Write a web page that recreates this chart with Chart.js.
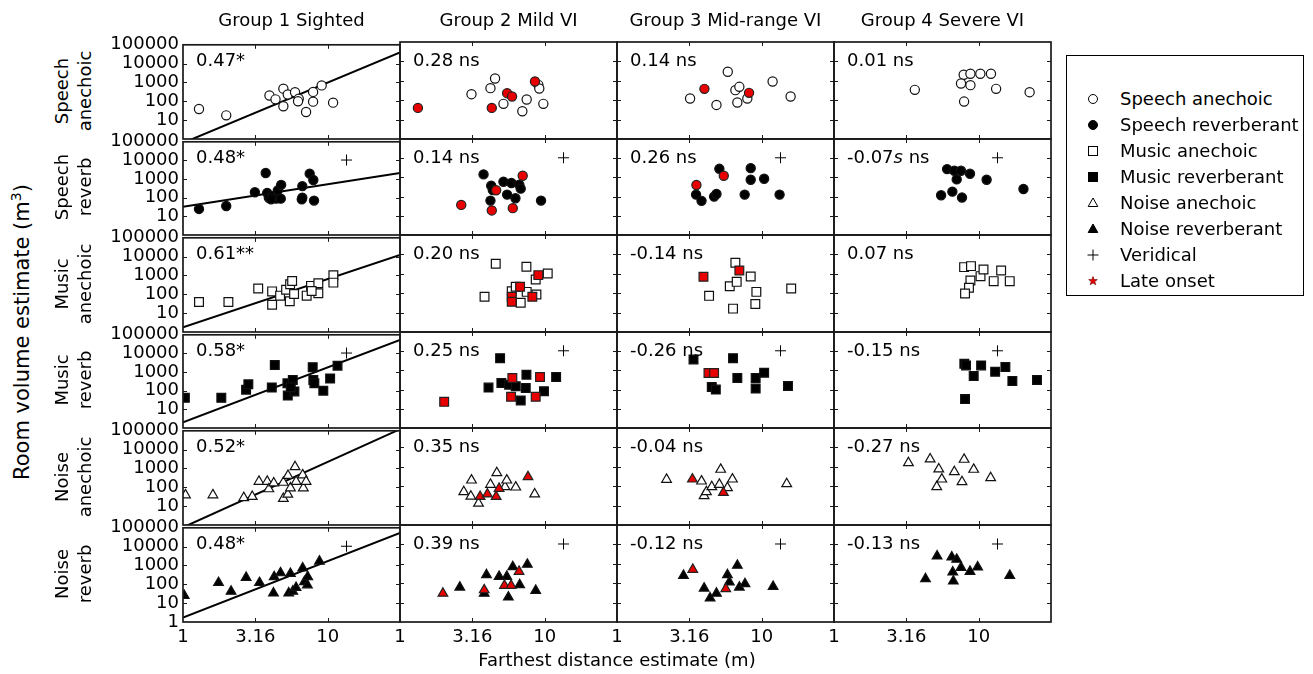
<!DOCTYPE html>
<html><head><meta charset="utf-8">
<script src="https://cdn.jsdelivr.net/npm/chart.js@4.4.1/dist/chart.umd.min.js"></script>
<style>
html,body{margin:0;padding:0;background:#fff;}
body{width:1313px;height:674px;overflow:hidden;position:relative;font-family:"DejaVu Sans",sans-serif;color:#000;}
canvas{position:absolute;}
.t{position:absolute;font-size:18px;line-height:18px;white-space:nowrap;}
.rot{position:absolute;font-size:18px;line-height:23px;white-space:nowrap;text-align:center;transform:translate(-50%,-50%) rotate(-90deg);}
#legend{position:absolute;left:1066px;top:55px;width:238px;height:241px;border:1px solid #000;box-sizing:border-box;}
.li{position:absolute;left:0;height:20px;font-size:18px;line-height:20px;white-space:nowrap;}
.li svg{position:absolute;left:19px;top:3px;}
.li span{position:absolute;left:53px;top:0;}
</style></head><body>
<script>
// ---------- tick values / labels ----------
const xTickValues = [1, 3.1623, 10, 31.623];
const xTickLabels = ['1', '3.16', '10', ''];
const yTickValues = [1, 10, 100, 1000, 10000, 100000];
const yTickLabels = ['1', '10', '100', '1000', '10000', '100000'];

// ---------- categories ----------
const groups = ['Group 1 Sighted', 'Group 2 Mild VI', 'Group 3 Mid-range VI', 'Group 4 Severe VI'];
const conditions = [['Speech','anechoic'],['Speech','reverb'],['Music','anechoic'],['Music','reverb'],['Noise','anechoic'],['Noise','reverb']];

// ---------- correlation annotations ----------
const corrSA = ['0.47*', '0.28 ns', '0.14 ns', '0.01 ns'];
const corrSR = ['0.48*', '0.14 ns', '0.26 ns', '-0.07<i>s</i> ns'];
const corrMA = ['0.61**', '0.20 ns', '-0.14 ns', '0.07 ns'];
const corrMR = ['0.58*', '0.25 ns', '-0.26 ns', '-0.15 ns'];
const corrNA = ['0.52*', '0.35 ns', '-0.04 ns', '-0.27 ns'];
const corrNR = ['0.48*', '0.39 ns', '-0.12 ns', '-0.13 ns'];

// ---------- data: [distance (m), room volume (m^3)] ----------
const SA_G1 = [[1.29,39],[1.99,18],[3.96,204],[4.36,127],[4.94,470],[5.30,230],[4.94,55],[5.95,304],[6.31,137],[6.24,100],[7.09,27],[7.93,316],[7.93,96],[9.09,700],[10.9,85]];
const SA_G2 = [[3.12,204],[4.22,417],[4.54,1320],[5.19,65],[7.01,27],[7.51,108],[9.04,620],[9.18,400],[9.79,65]];
const SA_G2_late = [[1.33,40],[4.31,40],[5.50,230],[5.95,155],[8.57,925]];
const SA_G3 = [[3.2,122],[4.87,57],[5.83,2920],[6.58,329],[7.01,490],[6.79,76],[7.96,122],[11.9,925],[15.85,155]];
const SA_G3_late = [[4.02,385],[8.18,239]];
const SA_G4 = [[3.62,342],[7.88,2040],[8.77,2300],[10.27,2300],[12.16,2300],[7.55,728],[8.77,597],[7.93,85],[13.2,385],[22.5,259]];

const SR_G1 = [[1.29,25],[1.99,36],[3.14,196],[3.73,2130],[3.82,181],[3.92,100],[4.17,122],[4.4,89],[4.52,250],[4.77,490],[4.74,89],[4.06,82],[6.68,418],[6.68,100],[6.62,82],[7.51,1960],[7.96,887],[8.05,70]];
const SR_G2 = [[3.78,1430],[4.27,371],[4.38,221],[4.22,62],[5.19,597],[5.50,127],[5.89,509],[6.28,82],[6.68,418],[6.83,259],[9.44,62]];
const SR_G2_late = [[2.65,37],[4.62,213],[4.31,19],[6.02,25],[7.05,1220]];
const SR_G3 = [[3.52,127],[3.84,60],[4.69,100],[4.87,137],[5.1,2800],[7.63,127],[8.4,3040],[8.4,757],[10.4,853],[13.3,127]];
const SR_G3_late = [[3.54,401],[5.47,1220]];
const SR_G4 = [[5.50,117],[6.05,2700],[6.58,181],[6.79,2210],[7.05,789],[7.55,2210],[7.67,89],[8.71,1550],[11.35,757],[20.4,250]];

const MA_G1 = [[1.29,39],[2.06,39],[3.31,204],[4.13,143],[4.13,28],[4.69,85],[5.16,174],[5.5,342],[5.68,509],[5.47,43],[5.86,104],[7.16,85],[7.67,281],[8.62,385],[8.62,113],[10.95,1040],[10.95,418],[7.75,149]];
const MA_G2 = [[3.84,65],[4.59,3290],[5.92,127],[6.31,213],[6.83,32],[7.48,2300],[7.51,117],[8.67,509],[8.77,85],[10.5,1040]];
const MA_G2_late = [[5.92,65],[5.92,36],[6.76,213],[8.22,65],[9.04,853]];
const MA_G3 = [[4.33,73],[6.02,230],[6.34,16],[6.58,3710],[6.72,385],[8.4,728],[9.19,117],[9.04,28],[16.0,174]];
const MA_G3_late = [[3.96,700],[7.01,1490]];
const MA_G4 = [[7.93,2210],[8.85,2490],[10.3,757],[10.8,1680],[12.7,418],[14.3,1490],[16.4,418],[8.77,452],[8.57,189],[8.05,96]];

const MR_G1 = [[1.03,42],[1.84,42],[2.73,113],[2.83,221],[4.11,149],[4.31,2390],[5.27,250],[5.3,55],[5.74,371],[5.89,92],[5.56,155],[7.88,1820],[7.96,371],[8.09,250],[9.33,100],[10.4,452],[11.7,2210]];
const MR_G2 = [[4.09,127],[4.92,4350],[5.02,221],[5.68,181],[6.31,149],[6.83,27],[7.4,122],[7.48,597],[9.89,82],[12.0,452]];
const MR_G2_late = [[2.02,23],[5.98,401],[5.86,42],[9.29,452],[8.67,42]];
const MR_G3 = [[3.38,3710],[4.52,137],[4.82,100],[6.34,4350],[6.79,401],[9.09,401],[9.09,113],[10.4,757],[15.2,155]];
const MR_G3_late = [[4.29,728],[4.69,728]];
const MR_G4 = [[7.96,2210],[8.18,1820],[9.24,509],[10.4,1820],[13.0,853],[15.3,1490],[17.1,281],[25.3,316],[8.05,32]];

const NA_G1 = [[1.04,39],[1.61,39],[2.63,28],[3.01,32],[3.35,204],[3.82,204],[3.92,82],[4.24,167],[4.94,181],[4.94,25],[5.3,42],[5.32,418],[5.53,92],[5.95,1220],[6.05,204],[6.72,452],[6.79,92],[7.09,204]];
const NA_G2 = [[2.76,51],[3.12,204],[3.09,30],[3.49,13],[4.22,122],[4.67,490],[5.32,92],[5.47,204],[6.31,89],[8.53,39]];
const NA_G2_late = [[3.58,29],[4.02,39],[4.62,29],[4.84,76],[7.67,304]];
const NA_G3 = [[2.2,221],[3.84,181],[4.0,32],[4.15,51],[4.52,92],[5.1,122],[5.21,728],[5.8,82],[6.28,230],[14.9,132]];
const NA_G3_late = [[3.32,230],[5.44,47]];
const NA_G4 = [[3.27,1610],[4.62,2490],[5.3,757],[5.13,92],[5.56,230],[6.79,551],[7.67,167],[7.93,2390],[9.24,728],[12.1,270]];

const NR_G1 = [[1.02,25],[1.76,122],[2.15,42],[2.73,230],[3.38,122],[4.27,250],[4.22,34],[4.72,401],[5.38,34],[5.53,371],[5.74,42],[6.05,67],[6.72,728],[6.91,137],[7.28,250],[8.77,1680],[7.24,92]];
const NR_G2 = [[2.59,62],[3.82,30],[3.96,270],[4.84,221],[5.47,221],[5.61,19],[6.02,700],[6.72,82],[7.59,925],[8.67,42]];
const NR_G2_late = [[1.98,30],[3.82,45],[5.27,76],[5.86,76],[6.65,401]];
const NR_G3 = [[2.88,250],[4.0,55],[4.4,17],[4.87,30],[5.8,270],[5.98,113],[6.79,820],[7.01,62],[7.67,92],[12.0,67]];
const NR_G3_late = [[3.34,509],[5.65,51]];
const NR_G4 = [[4.29,167],[5.16,2490],[6.52,2210],[7.05,1680],[6.62,371],[6.68,127],[7.55,646],[8.71,401],[9.84,673],[16.4,250]];

// veridical room (distance, volume)
const veridical = [[13.5,10500]];

// regression lines for Group 1 (end points)
const REG_SA = [[1,0.62],[31.623,39800]];
const REG_SR = [[1,33],[31.623,2130]];
const REG_MA = [[1,1.8],[31.623,12200]];
const REG_MR = [[1,2.0],[31.623,53000]];
const REG_NA = [[1,0.75],[31.623,121000]];
const REG_NR = [[1,1.74],[31.623,53000]];

// ---------- assembly ----------
const rowsDef = [
  {main:[SA_G1,SA_G2,SA_G3,SA_G4], late:[null,SA_G2_late,SA_G3_late,null], reg:REG_SA, corr:corrSA, style:'circle', fill:false, verid:false},
  {main:[SR_G1,SR_G2,SR_G3,SR_G4], late:[null,SR_G2_late,SR_G3_late,null], reg:REG_SR, corr:corrSR, style:'circle', fill:true, verid:true},
  {main:[MA_G1,MA_G2,MA_G3,MA_G4], late:[null,MA_G2_late,MA_G3_late,null], reg:REG_MA, corr:corrMA, style:'rect', fill:false, verid:false},
  {main:[MR_G1,MR_G2,MR_G3,MR_G4], late:[null,MR_G2_late,MR_G3_late,null], reg:REG_MR, corr:corrMR, style:'rect', fill:true, verid:true},
  {main:[NA_G1,NA_G2,NA_G3,NA_G4], late:[null,NA_G2_late,NA_G3_late,null], reg:REG_NA, corr:corrNA, style:'triangle', fill:false, verid:false},
  {main:[NR_G1,NR_G2,NR_G3,NR_G4], late:[null,NR_G2_late,NR_G3_late,null], reg:REG_NR, corr:corrNR, style:'triangle', fill:true, verid:true}
];
const radiusFor = {circle:4.6, rect:6.2, triangle:5.6};

const colEdges = [183, 400, 617, 834, 1051];
const rowEdges = [42, 139, 235, 332, 428, 525, 622];
const ML = 75, MR = 12, MT = 12, MB = 32;
const FONT = "'DejaVu Sans', sans-serif";
const RED = '#e80000';

const framePlugin = {
  id: 'frame',
  afterDraw(chart) {
    const {ctx, chartArea: a, scales: {x, y}} = chart;
    ctx.save();
    ctx.strokeStyle = '#1a1a1a';
    ctx.lineWidth = 1;
    ctx.beginPath();
    x.ticks.forEach(t => {
      if (t.value <= x.min * 1.0001 || t.value >= x.max * 0.9999) return;
      const px = Math.round(x.getPixelForValue(t.value)) + 0.5;
      ctx.moveTo(px, a.top); ctx.lineTo(px, a.top + 4);
      ctx.moveTo(px, a.bottom); ctx.lineTo(px, a.bottom - 4);
    });
    y.ticks.forEach(t => {
      if (t.value <= y.min * 1.0001 || t.value >= y.max * 0.9999) return;
      const py = Math.round(y.getPixelForValue(t.value)) + 0.5;
      ctx.moveTo(a.left, py); ctx.lineTo(a.left + 4, py);
      ctx.moveTo(a.right, py); ctx.lineTo(a.right - 4, py);
    });
    ctx.stroke();
    ctx.lineWidth = 1.7;
    ctx.strokeRect(a.left, a.top, a.right - a.left, a.bottom - a.top);
    ctx.restore();
  }
};

const toPts = arr => arr.map(([x, y]) => ({x, y}));

function addText(html, left, top, cls, extra) {
  const d = document.createElement('div');
  d.className = cls;
  d.innerHTML = html;
  d.style.left = left + 'px';
  d.style.top = top + 'px';
  if (extra) Object.assign(d.style, extra);
  document.body.appendChild(d);
  return d;
}

rowsDef.forEach((rd, r) => {
  for (let c = 0; c < 4; c++) {
    const L = colEdges[c], T = rowEdges[r];
    const W = colEdges[c + 1] - L, H = rowEdges[r + 1] - T;
    const cv = document.createElement('canvas');
    cv.width = W + ML + MR; cv.height = H + MT + MB;
    cv.style.left = (L - ML) + 'px'; cv.style.top = (T - MT) + 'px';
    cv.style.width = cv.width + 'px'; cv.style.height = cv.height + 'px';
    document.body.appendChild(cv);

    const ds = [];
    if (c === 0) {
      ds.push({data: toPts(rd.reg), showLine: true, borderColor: '#000', borderWidth: 2, pointRadius: 0, order: 5});
    }
    ds.push({data: toPts(rd.main[c]), pointStyle: rd.style, pointRadius: radiusFor[rd.style],
      backgroundColor: rd.fill ? '#000' : '#fff', borderColor: '#111', borderWidth: 1.2, order: 3});
    if (rd.late[c]) {
      ds.push({data: toPts(rd.late[c]), pointStyle: rd.style, pointRadius: radiusFor[rd.style],
        backgroundColor: RED, borderColor: '#222', borderWidth: 1.2, order: 1});
    }
    if (rd.verid) {
      ds.push({data: toPts(veridical), pointStyle: 'cross', pointRadius: 5.5, borderColor: '#000', borderWidth: 1, order: 0});
    }

    new Chart(cv, {
      type: 'scatter',
      data: {datasets: ds},
      options: {
        responsive: false, animation: false, devicePixelRatio: 1,
        layout: {padding: {top: MT, right: MR, left: 0, bottom: 0}},
        plugins: {legend: {display: false}, tooltip: {enabled: false}},
        scales: {
          x: {type: 'logarithmic', min: 1, max: 31.623,
            afterBuildTicks: s => { s.ticks = xTickValues.map(v => ({value: v})); },
            afterFit: s => { s.height = MB; },
            grid: {display: false, drawTicks: false}, border: {display: false},
            ticks: {display: r === 5, autoSkip: false, maxRotation: 0, minRotation: 0, padding: 5,
              color: '#000', font: {family: FONT, size: 18}, callback: (v, i) => xTickLabels[i]}},
          y: {type: 'logarithmic', min: 1, max: 100000,
            afterBuildTicks: s => { s.ticks = yTickValues.map(v => ({value: v})); },
            afterFit: s => { s.width = ML; },
            grid: {display: false, drawTicks: false}, border: {display: false},
            ticks: {display: c === 0, autoSkip: false, padding: 4,
              color: '#000', font: {family: FONT, size: 18},
              callback: (v, i) => (r < 5 && i === 0) ? '' : yTickLabels[i]}}
        }
      },
      plugins: [framePlugin]
    });

    addText(rd.corr[c], L + 13, T + 9, 't');
  }
  // row label
  const cy = (rowEdges[r] + rowEdges[r + 1]) / 2;
  addText(conditions[r][0] + '<br>' + conditions[r][1], 73, cy, 'rot');
});

// column titles
groups.forEach((g, c) => {
  const cx = (colEdges[c] + colEdges[c + 1]) / 2;
  addText(g, cx, 11, 't', {transform: 'translateX(-50%)'});
});
// axis titles
addText('Farthest distance estimate (m)', (colEdges[0] + colEdges[4]) / 2, 651, 't', {transform: 'translateX(-50%)'});
addText('Room volume estimate (m<sup style="font-size:14px;line-height:0">3</sup>)', 22, 332, 'rot', {fontSize: '21px'});

// legend
const legendItems = [
  ['Speech anechoic', '<circle cx="7" cy="7" r="4.5" fill="#fff" stroke="#000"/>'],
  ['Speech reverberant', '<circle cx="7" cy="7" r="4.5" fill="#000" stroke="#000"/>'],
  ['Music anechoic', '<rect x="2.5" y="2.5" width="9" height="9" fill="#fff" stroke="#000"/>'],
  ['Music reverberant', '<rect x="2.5" y="2.5" width="9" height="9" fill="#000" stroke="#000"/>'],
  ['Noise anechoic', '<polygon points="7,2 11.8,10.5 2.2,10.5" fill="#fff" stroke="#000"/>'],
  ['Noise reverberant', '<polygon points="7,2 11.8,10.5 2.2,10.5" fill="#000" stroke="#000"/>'],
  ['Veridical', '<path d="M7 1.5V12.5M1.5 7H12.5" stroke="#000" stroke-width="1"/>'],
  ['Late onset', '<polygon points="7,2.5 8.2,5.6 11.3,5.6 8.8,7.6 9.8,10.8 7,8.9 4.2,10.8 5.2,7.6 2.7,5.6 5.8,5.6" fill="' + RED + '" stroke="#600" stroke-width="0.6"/>']
];
const lg = document.createElement('div');
lg.id = 'legend';
document.body.appendChild(lg);
const itemY = [98, 124, 150, 176, 202, 228, 254, 280];
legendItems.forEach(([txt, svg], i) => {
  const d = document.createElement('div');
  d.className = 'li';
  d.style.top = (itemY[i] - 55 - 10) + 'px';
  d.innerHTML = '<svg width="14" height="14" viewBox="0 0 14 14">' + svg + '</svg><span>' + txt + '</span>';
  lg.appendChild(d);
});
</script>
</body></html>
